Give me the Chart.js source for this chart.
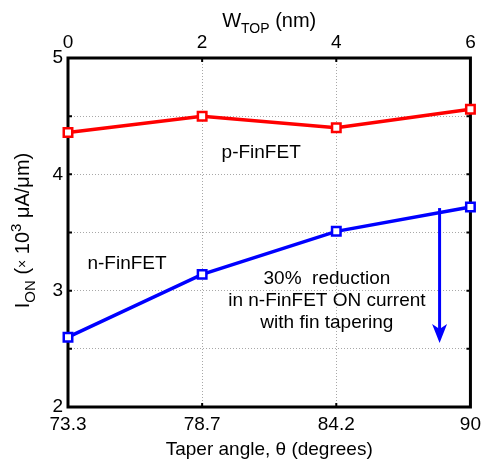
<!DOCTYPE html>
<html>
<head>
<meta charset="utf-8">
<script src="https://cdn.jsdelivr.net/npm/chart.js@4"></script>
<style>
  html, body { margin: 0; padding: 0; background: #fff; }
  #wrap { width: 487px; height: 463px; }
</style>
</head>
<body>
<div id="wrap"><canvas id="ionChart" width="487" height="463"></canvas></div>
<script>
// taper angle categories (bottom axis) and top width (top axis)
const taperAngles = ['73.3', '78.7', '84.2', '90'];
const wTop = [0, 2, 4, 6];
// ON current, x10^3 uA/um
const pFinFET = [4.36, 4.50, 4.40, 4.56];
const nFinFET = [2.60, 3.14, 3.51, 3.72];
const yTicks = [2, 3, 4, 5];

const FONT = '"Liberation Sans", Arial, sans-serif';

const pts = vals => vals.map((v, i) => ({ x: i, y: v }));

// extra drawing: frame, inward ticks, titles, notes and arrow
const decor = {
  id: 'decor',
  beforeDatasetsDraw(chart) {
    const { ctx, chartArea: a, scales } = chart;
    ctx.save();
    ctx.strokeStyle = '#000';
    ctx.lineWidth = 2;
    // small inward ticks
    for (let v = 2.5; v < 5; v += 0.5) {
      const y = scales.y.getPixelForValue(v);
      ctx.beginPath();
      ctx.moveTo(a.left, y); ctx.lineTo(a.left + 4, y);
      ctx.moveTo(a.right, y); ctx.lineTo(a.right - 4, y);
      ctx.stroke();
    }
    for (let i = 1; i < taperAngles.length - 1; i++) {
      const x = scales.x.getPixelForValue(i);
      ctx.beginPath();
      ctx.moveTo(x, a.bottom); ctx.lineTo(x, a.bottom - 4);
      ctx.moveTo(x, a.top); ctx.lineTo(x, a.top + 4);
      ctx.stroke();
    }
    ctx.lineWidth = 3;
    ctx.strokeRect(a.left, a.top, a.right - a.left, a.bottom - a.top);
    ctx.restore();
  },
  afterDatasetsDraw(chart) {
    const { ctx, chartArea: a, scales } = chart;
    const sx = scales.x, sy = scales.y;
    ctx.save();
    ctx.fillStyle = '#000';
    ctx.textBaseline = 'alphabetic';

    // notes inside the plot
    ctx.font = '19px ' + FONT;
    ctx.textAlign = 'center';
    ctx.fillText('p-FinFET', sx.getPixelForValue(1.44), sy.getPixelForValue(4.14));
    ctx.fillText('n-FinFET', sx.getPixelForValue(0.44), sy.getPixelForValue(3.19));
    const nx = sx.getPixelForValue(1.93);
    ctx.fillText('30%  reduction', nx, sy.getPixelForValue(3.06));
    ctx.fillText('in n-FinFET ON current', nx, sy.getPixelForValue(2.87));
    ctx.fillText('with fin tapering', nx, sy.getPixelForValue(2.68));

    // arrow
    const ax = sx.getPixelForValue(2.77);
    const y0 = sy.getPixelForValue(3.71), y1 = sy.getPixelForValue(2.55);
    ctx.strokeStyle = '#0000ff';
    ctx.fillStyle = '#0000ff';
    ctx.lineWidth = 3;
    ctx.beginPath();
    ctx.moveTo(ax, y0); ctx.lineTo(ax, y1 - 12);
    ctx.stroke();
    ctx.beginPath();
    ctx.moveTo(ax, y1);
    ctx.lineTo(ax - 7.5, y1 - 19);
    ctx.lineTo(ax, y1 - 14);
    ctx.lineTo(ax + 7.5, y1 - 19);
    ctx.closePath();
    ctx.fill();

    // top title W_TOP (nm)
    ctx.fillStyle = '#000';
    ctx.textAlign = 'left';
    const cx = (a.left + a.right) / 2;
    ctx.font = '20px ' + FONT;
    const wW = ctx.measureText('W').width;
    const tail = ctx.measureText(' (nm)').width;
    ctx.font = '14px ' + FONT;
    const subW = ctx.measureText('TOP').width;
    let x = cx - (wW + subW + tail) / 2;
    ctx.font = '20px ' + FONT;
    ctx.fillText('W', x, 27);
    ctx.font = '14px ' + FONT;
    ctx.fillText('TOP', x + wW, 33);
    ctx.font = '20px ' + FONT;
    ctx.fillText(' (nm)', x + wW + subW, 27);

    // bottom title
    ctx.textAlign = 'center';
    ctx.font = '19px ' + FONT;
    ctx.fillText('Taper angle, \u03b8 (degrees)', cx, 455);

    // y title I_ON (x 10^3 uA/um)
    ctx.translate(29, (a.top + a.bottom) / 2 - 2);
    ctx.rotate(-Math.PI / 2);
    ctx.textAlign = 'left';
    const parts = [
      ['I', '20px', 0], ['ON', '15px', 6], [' (', '20px', 0], ['\u00d7', '14px', -2],
      [' 10', '20px', 0], ['3', '15px', -8], [' \u03bcA/\u03bcm)', '20px', 0]
    ];
    let total = 0;
    parts.forEach(p => { ctx.font = p[1] + ' ' + FONT; total += ctx.measureText(p[0]).width; });
    x = -total / 2;
    parts.forEach(p => {
      ctx.font = p[1] + ' ' + FONT;
      ctx.fillText(p[0], x, p[2]);
      x += ctx.measureText(p[0]).width;
    });
    ctx.restore();
  }
};

const ctx = document.getElementById('ionChart').getContext('2d');
new Chart(ctx, {
  type: 'line',
  data: {
    datasets: [{
      label: 'p-FinFET',
      data: pts(pFinFET),
      borderColor: '#ff0000',
      backgroundColor: '#ffffff',
      borderWidth: 3.5,
      pointStyle: 'rect',
      pointRadius: 6,
      pointBorderWidth: 2.5,
      pointBackgroundColor: '#ffffff',
      clip: false
    }, {
      label: 'n-FinFET',
      data: pts(nFinFET),
      borderColor: '#0000ff',
      backgroundColor: '#ffffff',
      borderWidth: 3.5,
      pointStyle: 'rect',
      pointRadius: 6,
      pointBorderWidth: 2.5,
      pointBackgroundColor: '#ffffff',
      clip: false
    }]
  },
  options: {
    responsive: false,
    animation: false,
    layout: { padding: { right: 15, left: 0, top: 0, bottom: 0 } },
    plugins: { legend: { display: false }, tooltip: { enabled: false } },
    scales: {
      x: {
        type: 'linear', position: 'bottom', min: 0, max: 3,
        afterFit: s => { s.height = 56; },
        afterBuildTicks: s => { s.ticks = taperAngles.map((t, i) => ({ value: i })); },
        ticks: {
          callback: v => taperAngles[v], font: { family: FONT, size: 19 }, color: '#000',
          padding: 6, maxRotation: 0, autoSkip: false
        },
        grid: { color: '#a8a8a8', lineWidth: 1, drawTicks: false },
        border: { display: false, dash: [1, 2] }
      },
      x2: {
        type: 'linear', position: 'top', min: 0, max: 6,
        afterFit: s => { s.height = 58; },
        afterBuildTicks: s => { s.ticks = wTop.map(v => ({ value: v })); },
        ticks: { font: { family: FONT, size: 19 }, color: '#000', padding: 4, maxRotation: 0 },
        grid: { display: false, drawTicks: false },
        border: { display: false }
      },
      y: {
        min: 2, max: 5,
        afterFit: s => { s.width = 68; },
        afterBuildTicks: s => {
          const t = [];
          for (let v = 2; v <= 5.001; v += 0.5) t.push({ value: v });
          s.ticks = t;
        },
        ticks: {
          callback: v => (yTicks.includes(v) ? String(v) : ''),
          font: { family: FONT, size: 19 }, color: '#000', padding: 5
        },
        grid: { color: '#a8a8a8', lineWidth: 1, drawTicks: false },
        border: { display: false, dash: [1, 2] }
      }
    }
  },
  plugins: [decor]
});
</script>
</body>
</html>
